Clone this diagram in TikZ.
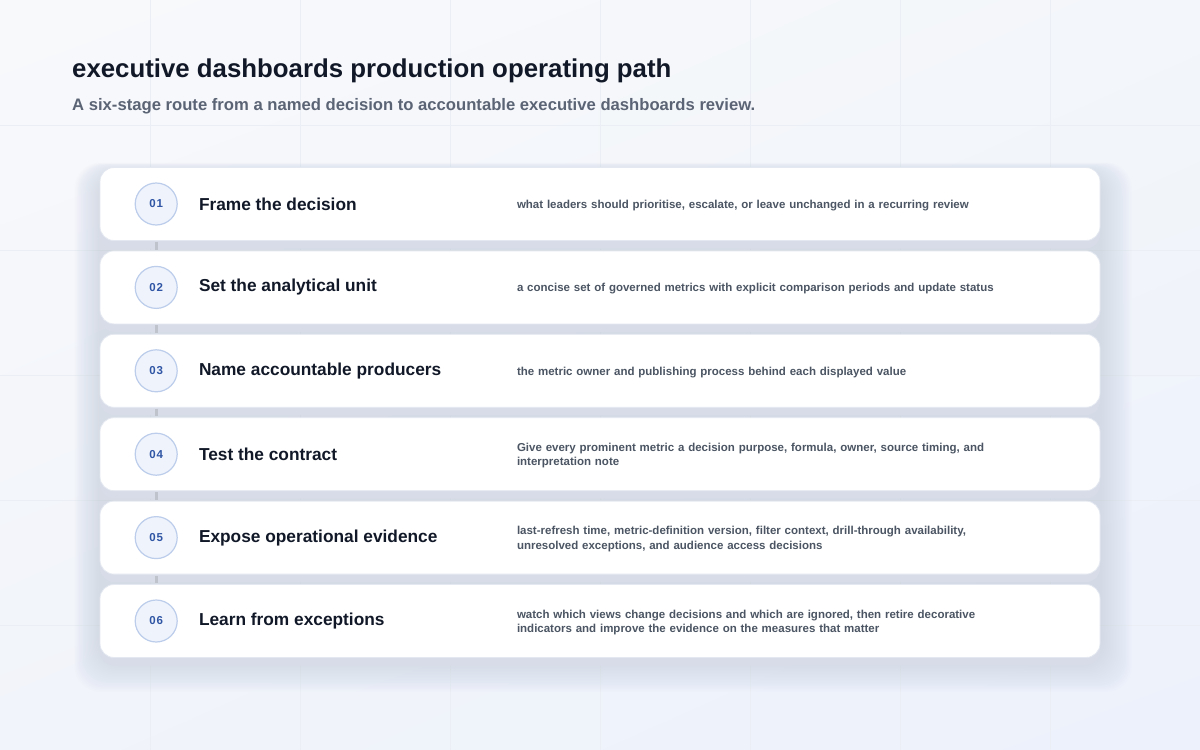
\documentclass[tikz,border=0pt]{standalone}
\usepackage{fontspec}
\setmainfont{Liberation Sans}
\newfontfamily\numfont[LetterSpace=6]{Liberation Sans}
\usetikzlibrary{positioning,shadows,shadings}

\definecolor{inkdark}{HTML}{111827}
\definecolor{inksub}{HTML}{5B6475}
\definecolor{inkdesc}{HTML}{4B5563}
\definecolor{numblue}{HTML}{2F55A4}
\definecolor{numfill}{HTML}{EEF3FC}
\definecolor{numline}{HTML}{BCCDEB}
\definecolor{cardline}{HTML}{E4E8F0}
\definecolor{gapshade}{HTML}{D7DCE8}
\definecolor{linkgray}{HTML}{BFC3CC}
\definecolor{gridline}{HTML}{EBEEF4}
\definecolor{stackshade}{HTML}{8E97AE}
\definecolor{bgul}{HTML}{F8F9FB}
\definecolor{bgur}{HTML}{F3F6FA}
\definecolor{bgll}{HTML}{F1F4FA}
\definecolor{bglr}{HTML}{ECF1FB}

\begin{document}
\begin{tikzpicture}[x=1pt, y=-1pt,
    card/.style={draw=cardline, line width=0.8pt, fill=white, rounded corners=14pt,
      minimum width=1000pt, minimum height=73pt, inner sep=0pt,
      drop shadow={shadow xshift=0pt, shadow yshift=-8pt, fill=gapshade, opacity=1}},
    stagenum/.style={circle, draw=numline, fill=numfill, line width=1.2pt,
      minimum size=42pt, inner sep=0pt, text=numblue, font=\numfont\bfseries\fontsize{11.5}{12}\selectfont},
    stagetitle/.style={inner sep=0pt, anchor=west, text=inkdark, font=\bfseries\fontsize{17.3}{20}\selectfont},
    stagedesc/.style={inner sep=0pt, anchor=west, yshift=-1.5pt, text=inkdesc, text width=480pt, align=left,
      font=\bfseries\fontsize{11.5}{14.5}\selectfont,
      execute at begin node={\hyphenpenalty=10000\relax\exhyphenpenalty=10000\relax}},
    link/.style={draw=linkgray, line width=3pt, shorten <=1pt, shorten >=1pt}]
    \useasboundingbox (0,0) rectangle (1200,750);

    % Background
    \shade[upper left=bgul, upper right=bgur, lower left=bgll, lower right=bglr] (0,0) rectangle (1200,750);
    \foreach \gx in {150,300,...,1050} \draw[gridline, line width=0.5pt] (\gx,0) -- (\gx,750);
    \foreach \gy in {125,250,...,625} \draw[gridline, line width=0.5pt] (0,\gy) -- (1200,\gy);
    \foreach \s in {2,3.5,...,32}
      \fill[stackshade, opacity=0.01, rounded corners=26pt] (100-0.8*\s,172-0.3*\s) rectangle (1100+\s,660+\s);

    % Title
    \node[inner sep=0pt, anchor=base west, text=inkdark, font=\bfseries\fontsize{25.8}{30}\selectfont]
      (title) at (72,77) {executive dashboards production operating path};
    \node[inner sep=0pt, anchor=base west, text=inksub, font=\bfseries\fontsize{16.65}{20}\selectfont]
      (subtitle) at (72,110) {A six-stage route from a named decision to accountable executive dashboards review.};

    % Nodes
    \node[card] (frame) at (600,204) {};
    \node[stagenum, right=35pt of frame.west] (framenum) {01};
    \node[stagetitle, right=21pt of framenum] (frametitle) {Frame the decision};
    \node[stagedesc, right=339pt of framenum] (framedesc) {what leaders should prioritise, escalate, or leave unchanged in a recurring review};

    \node[card, below=9.6pt of frame] (unit) {};
    \node[stagenum, right=35pt of unit.west] (unitnum) {02};
    \node[stagetitle, right=21pt of unitnum] (unittitle) {Set the analytical unit};
    \node[stagedesc, right=339pt of unitnum] (unitdesc) {a concise set of governed metrics with explicit comparison periods and update status};

    \node[card, below=9.6pt of unit] (producers) {};
    \node[stagenum, right=35pt of producers.west] (producersnum) {03};
    \node[stagetitle, right=21pt of producersnum] (producerstitle) {Name accountable producers};
    \node[stagedesc, right=339pt of producersnum] (producersdesc) {the metric owner and publishing process behind each displayed value};

    \node[card, below=9.6pt of producers] (contract) {};
    \node[stagenum, right=35pt of contract.west] (contractnum) {04};
    \node[stagetitle, right=21pt of contractnum] (contracttitle) {Test the contract};
    \node[stagedesc, right=339pt of contractnum] (contractdesc) {Give every prominent metric a decision purpose, formula, owner, source timing, and interpretation note};

    \node[card, below=9.6pt of contract] (evidence) {};
    \node[stagenum, right=35pt of evidence.west] (evidencenum) {05};
    \node[stagetitle, right=21pt of evidencenum] (evidencetitle) {Expose operational evidence};
    \node[stagedesc, right=339pt of evidencenum] (evidencedesc) {last-refresh time, metric-definition version, filter context, drill-through availability, unresolved exceptions, and audience access decisions};

    \node[card, below=9.6pt of evidence] (learn) {};
    \node[stagenum, right=35pt of learn.west] (learnnum) {06};
    \node[stagetitle, right=21pt of learnnum] (learntitle) {Learn from exceptions};
    \node[stagedesc, right=339pt of learnnum] (learndesc) {watch which views change decisions and which are ignored, then retire decorative indicators and improve the evidence on the measures that matter};

    % Arrows
    \draw[link] (framenum |- frame.south) -- (unitnum |- unit.north);
    \draw[link] (unitnum |- unit.south) -- (producersnum |- producers.north);
    \draw[link] (producersnum |- producers.south) -- (contractnum |- contract.north);
    \draw[link] (contractnum |- contract.south) -- (evidencenum |- evidence.north);
    \draw[link] (evidencenum |- evidence.south) -- (learnnum |- learn.north);
  \end{tikzpicture}
\end{document}
